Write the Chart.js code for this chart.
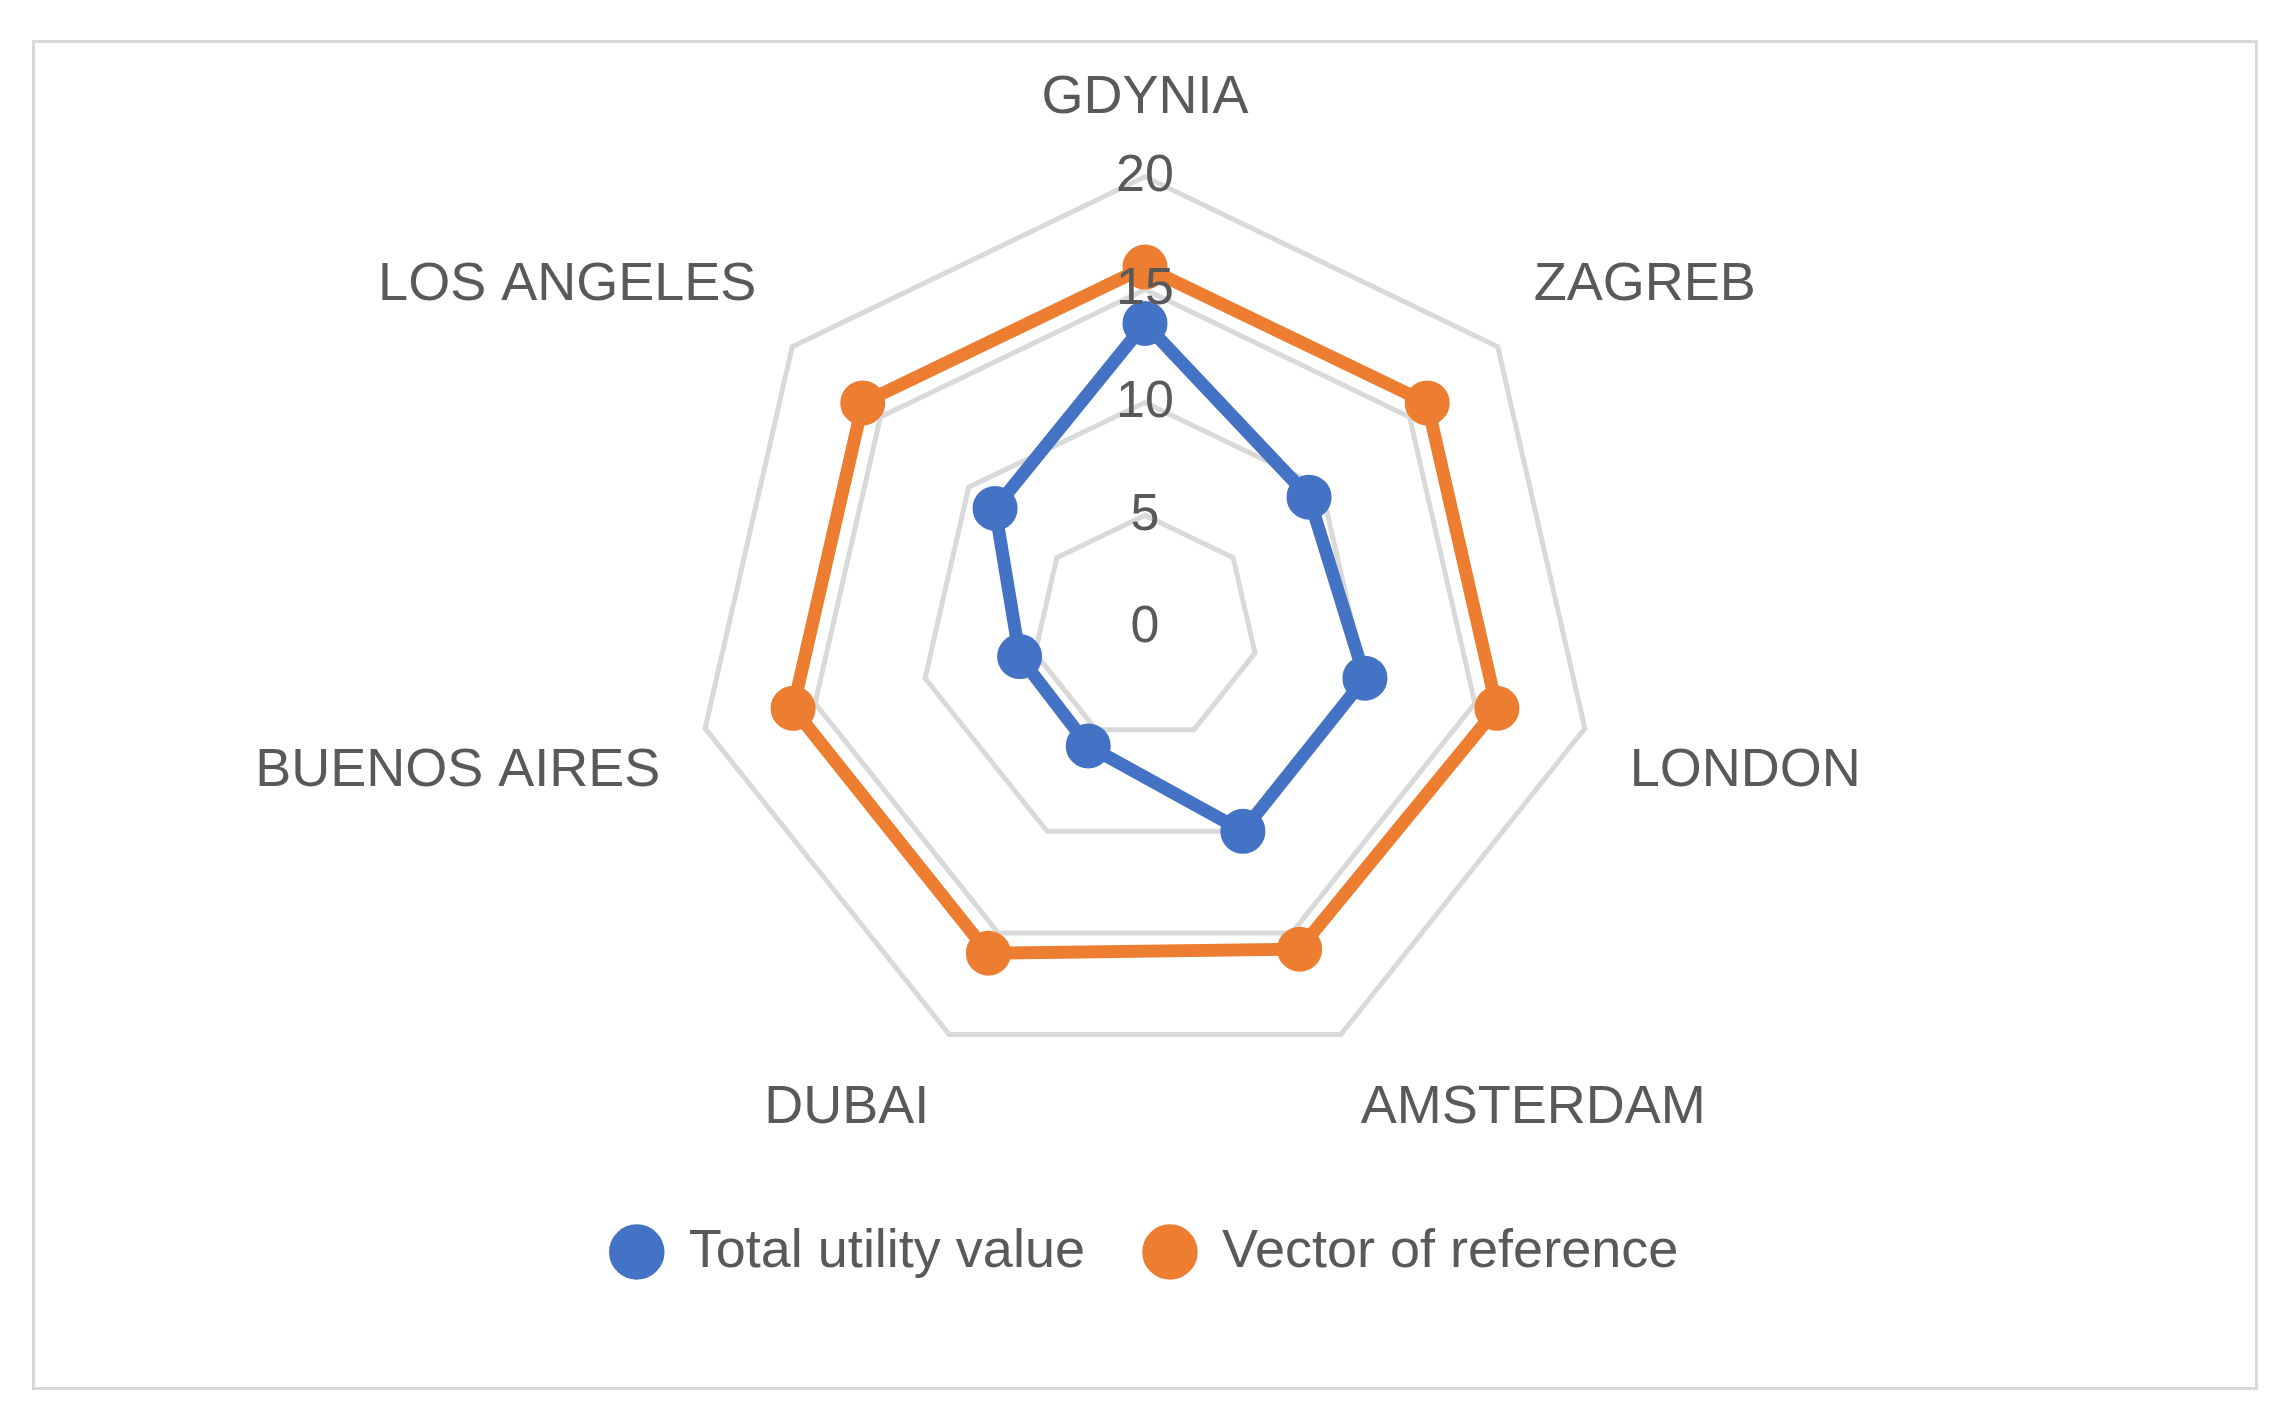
<!DOCTYPE html>
<html><head><meta charset="utf-8">
<script src="https://cdn.jsdelivr.net/npm/chart.js@4"></script>
<style>
html,body{margin:0;background:#fff;}
#box{position:absolute;left:32px;top:40px;width:2226px;height:1350px;border:3px solid #d9d9d9;box-sizing:border-box;}
#wrap{position:absolute;left:0;top:-58px;width:2220px;height:1344px;}
</style></head><body>
<div id="box"><div id="wrap"><canvas id="c"></canvas></div></div>
<script>
const categories=["GDYNIA","ZAGREB","LONDON","AMSTERDAM","DUBAI","BUENOS AIRES","LOS ANGELES"];
const totalUtility=[13.5,9.3,10,10,5.8,5.7,8.5];
const vectorRef=[16,16,16,15.8,16,16,16];
const tickValues=[0,5,10,15,20];
const zeroTick={id:'zeroTick',afterDraw(chart){
  const s=chart.scales.r;const ctx=chart.ctx;
  ctx.save();ctx.font='52px "Liberation Sans"';ctx.fillStyle='#595959';
  ctx.textAlign='center';ctx.textBaseline='middle';
  ctx.fillText(String(tickValues[0]),s.xCenter,s.yCenter);ctx.restore();}};
new Chart(document.getElementById('c'),{
type:'radar',
data:{labels:categories,datasets:[
{label:'Total utility value',data:totalUtility,borderColor:'#4472c4',backgroundColor:'#4472c4',pointBackgroundColor:'#4472c4',borderWidth:13,pointRadius:16,fill:false},
{label:'Vector of reference',data:vectorRef,borderColor:'#ed7d31',backgroundColor:'#ed7d31',pointBackgroundColor:'#ed7d31',borderWidth:13,pointRadius:16,fill:false}
]},
options:{responsive:true,maintainAspectRatio:false,animation:false,
layout:{padding:{top:55,bottom:40,left:20,right:20}},
scales:{r:{min:0,max:20,
ticks:{stepSize:5,callback:v=>tickValues.includes(v)?String(v):'',color:'#595959',font:{size:52,family:'Liberation Sans'},backdropColor:'rgba(0,0,0,0)',z:1},
grid:{color:'#d9d9d9',lineWidth:5},
angleLines:{display:false},
pointLabels:{color:'#595959',font:{size:54,family:'Liberation Sans'},padding:18}}},
plugins:{legend:{position:'bottom',labels:{usePointStyle:true,pointStyle:'circle',boxWidth:50,boxHeight:30,padding:60,color:'#595959',font:{size:54,family:'Liberation Sans'}}},tooltip:{enabled:false}}
},plugins:[zeroTick]});
</script></body></html>
